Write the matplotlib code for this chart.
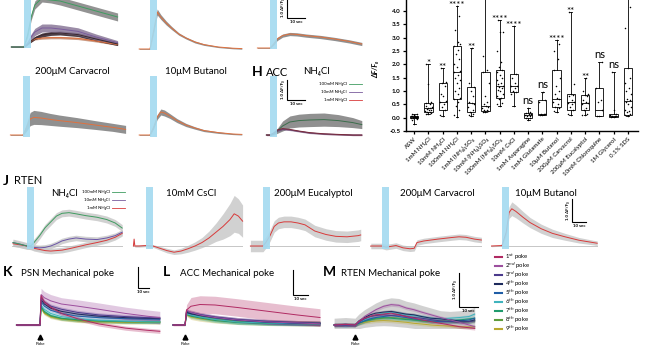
import numpy as np
import matplotlib.pyplot as plt
from matplotlib.lines import Line2D
from matplotlib.transforms import ScaledTranslation

plt.rcParams['font.family'] = ['Lato', 'DejaVu Sans']

W, H = 665, 348  # figure size in pixels

# ---------------- summary box plot ----------------
conditions = ['ASW', '1mM NH₄Cl', '10mM NH₄Cl', '100mM NH₄Cl', '1mM (NH₄)₂SO₄',
              '10mM (NH₄)₂SO₄', '100mM (NH₄)₂SO₄', '10mM CsCl', '1mM Asparagine',
              '1mM Glutamate', '10μM Butanol', '200μM Carvacrol', '200μM Eucalyptol',
              '10mM Chloroquine', '1M Glycerol', '0.1% SDS']
# whisker low, q1, median, q3, whisker high
box_stats = [(-0.25, -0.03, 0.02, 0.08, 0.15),
             (0.12, 0.2, 0.35, 0.55, 2.0),
             (0.05, 0.3, 0.6, 1.3, 1.85),
             (0.02, 0.7, 1.7, 2.68, 4.2),
             (0.05, 0.2, 0.55, 1.15, 2.63),
             (0.2, 0.25, 0.45, 1.7, 5.6),
             (0.45, 0.75, 1.2, 1.78, 3.65),
             (0.45, 0.95, 1.2, 1.65, 3.45),
             (-0.08, 0.0, 0.1, 0.18, 0.35),
             (0.1, 0.1, 0.12, 0.65, 0.95),
             (0.2, 0.4, 0.7, 1.8, 2.9),
             (0.1, 0.3, 0.6, 0.9, 3.95),
             (0.1, 0.3, 0.55, 0.85, 1.48),
             (0.05, 0.05, 0.3, 1.1, 2.07),
             (0.02, 0.02, 0.05, 0.15, 1.72),
             (0.05, 0.1, 0.62, 1.88, 5.4)]
cell_values = [
    [-0.25, -0.1, -0.05, -0.03, -0.02, 0.0, 0.0, 0.01, 0.02, 0.02, 0.03, 0.04, 0.05, 0.06, 0.07, 0.08, 0.1, 0.12, 0.15],
    [0.12, 0.15, 0.18, 0.2, 0.22, 0.25, 0.28, 0.3, 0.33, 0.35, 0.38, 0.4, 0.45, 0.5, 0.55, 0.58, 1.25, 2.0],
    [0.05, 0.1, 0.3, 0.4, 0.5, 0.58, 0.62, 0.8, 0.9, 1.2, 1.3, 1.35, 1.85],
    [0.02, 0.1, 0.3, 0.45, 0.6, 0.7, 0.75, 0.9, 1.0, 1.1, 1.3, 1.4, 1.5, 1.6, 1.7, 1.75, 1.9, 2.0,
     2.2, 2.4, 2.55, 2.68, 2.75, 2.85, 3.3, 3.8, 4.2],
    [0.05, 0.1, 0.15, 0.2, 0.3, 0.4, 0.5, 0.55, 0.6, 0.8, 1.0, 1.15, 1.3, 2.63],
    [0.2, 0.22, 0.25, 0.28, 0.3, 0.35, 0.4, 0.45, 0.5, 0.6, 0.8, 1.3, 1.7, 1.8, 2.3],
    [0.45, 0.5, 0.55, 0.7, 0.75, 0.8, 0.9, 1.0, 1.05, 1.1, 1.15, 1.2, 1.25, 1.3, 1.4, 1.5, 1.6,
     1.7, 1.78, 1.9, 2.1, 2.5, 3.2, 3.2, 3.65],
    [0.45, 0.9, 0.95, 1.0, 1.1, 1.2, 1.2, 1.3, 1.5, 1.65, 3.45],
    [-0.08, -0.02, 0.0, 0.05, 0.08, 0.1, 0.12, 0.15, 0.18, 0.2, 0.35],
    [0.1, 0.1, 0.12, 0.12, 0.15, 0.6, 0.65, 0.95],
    [0.2, 0.25, 0.35, 0.4, 0.5, 0.6, 0.7, 0.75, 0.9, 1.0, 1.2, 1.5, 1.8, 2.2, 2.5, 2.75, 2.9],
    [0.1, 0.15, 0.3, 0.4, 0.5, 0.55, 0.6, 0.65, 0.8, 0.85, 0.9, 1.25, 3.95],
    [0.1, 0.1, 0.12, 0.3, 0.35, 0.5, 0.55, 0.6, 0.65, 0.8, 0.85, 0.9, 1.0, 1.48],
    [0.05, 0.08, 0.3, 0.6, 0.65, 1.1, 2.07],
    [0.02, 0.03, 0.05, 0.05, 0.08, 0.1, 0.15, 0.3, 1.72],
    [0.05, 0.1, 0.15, 0.2, 0.25, 0.3, 0.4, 0.5, 0.6, 0.65, 0.7, 0.9, 1.0, 1.1, 1.3, 1.5, 1.88,
     3.35, 4.15]]
# stars above the two whiskers that run off the top are not drawn
significance = ['', '*', '**', '****', '**', '', '****', '****', 'ns', 'ns',
                '****', '**', '**', 'ns', 'ns', '']
jitter = [0.0, -0.18, 0.16, -0.08, 0.1, -0.22, 0.2, 0.05, -0.12, 0.14, -0.02, 0.22, -0.15, 0.08, -0.2, 0.18]

# ---------------- calcium traces (time in s, stimulus at t=0) ----------------
# top row, NH4Cl panel
a1_t = [-7, 0, 2, 4, 6, 10, 15, 20, 30, 40, 52]
a1_green = [0, 0, 0.6, 1.5, 2.1, 2.45, 2.4, 2.3, 2.05, 1.8, 1.5]
a1_green_sem = [0.02, 0.02, 0.1, 0.15, 0.2, 0.2, 0.2, 0.2, 0.2, 0.2, 0.2]
a1_purple = [0, 0, 0.2, 0.5, 0.75, 0.95, 0.95, 0.9, 0.78, 0.5, 0.22]
a1_purple_sem = [0.02, 0.02, 0.08, 0.15, 0.18, 0.2, 0.2, 0.2, 0.18, 0.15, 0.1]
a1_dark = [0, 0, 0.15, 0.3, 0.45, 0.6, 0.68, 0.7, 0.62, 0.4, 0.15]
a1_dark_sem = [0.01, 0.01, 0.04, 0.06, 0.08, 0.1, 0.1, 0.1, 0.1, 0.1, 0.08]
a1_orange = [0, 0, 0.15, 0.3, 0.4, 0.45, 0.47, 0.47, 0.43, 0.3, 0.12]
a1_orange_sem = [0.01, 0.01, 0.03, 0.04, 0.05, 0.06, 0.06, 0.06, 0.06, 0.05, 0.04]
# top row, fast decay panel
a2_t = [-6, 0, 2, 4, 6, 9, 12, 16, 20, 25, 30, 38, 46, 51]
a2_v = [0, 0, 0.9, 1.85, 1.6, 1.3, 1.05, 0.75, 0.55, 0.35, 0.22, 0.1, 0.04, 0.02]
a2_sem = [0.02, 0.02, 0.1, 0.15, 0.12, 0.1, 0.08, 0.06, 0.05, 0.05, 0.04, 0.03, 0.03, 0.03]
# top row, slow panel
a3_t = [-7, 0, 2, 4, 7, 11, 15, 20, 28, 36, 44, 51]
a3_v = [0, 0, 0.2, 0.45, 0.62, 0.7, 0.68, 0.62, 0.55, 0.45, 0.33, 0.2]
a3_sem = [0.02, 0.02, 0.05, 0.08, 0.08, 0.08, 0.08, 0.08, 0.08, 0.08, 0.08, 0.08]
# second row: carvacrol, butanol
b1_t = [-7, 0, 2, 4, 6, 10, 15, 20, 30, 40, 50, 57]
b1_v = [0, 0, 0.4, 0.8, 0.88, 0.85, 0.78, 0.72, 0.62, 0.5, 0.38, 0.28]
b1_sem = [0.02, 0.02, 0.2, 0.33, 0.35, 0.33, 0.3, 0.28, 0.25, 0.22, 0.2, 0.2]
b2_t = [-6, 0, 2, 4, 6, 8, 11, 15, 20, 25, 30, 38, 46, 51]
b2_v = [0, 0, 0.4, 0.9, 1.15, 1.1, 0.95, 0.72, 0.5, 0.35, 0.22, 0.12, 0.05, 0.03]
b2_sem = [0.02, 0.02, 0.08, 0.12, 0.15, 0.15, 0.12, 0.1, 0.08, 0.06, 0.05, 0.04, 0.03, 0.03]
# H: ACC NH4Cl
h_t = [-2, 0, 2, 4, 7, 11, 16, 22, 30, 38, 46, 51]
h_100 = [0, 0, 0.05, 0.2, 0.45, 0.65, 0.72, 0.75, 0.77, 0.72, 0.62, 0.52]
h_100_sem = [0.02, 0.02, 0.05, 0.12, 0.25, 0.3, 0.32, 0.33, 0.33, 0.3, 0.25, 0.2]
h_10 = [0, 0, 0.08, 0.2, 0.28, 0.25, 0.18, 0.1, 0.05, 0.02, 0.0, 0.0]
h_1 = [0, 0, 0.1, 0.25, 0.32, 0.28, 0.2, 0.12, 0.06, 0.03, 0.0, 0.0]
# J: RTEN
j1_t = [-10, -5, 0, 3, 5, 9, 13, 17, 21, 25, 30, 35, 42, 50, 57, 63, 68]
j1_100 = [0.15, 0.08, 0.0, 0.02, 0.15, 0.45, 0.8, 1.05, 1.3, 1.42, 1.45, 1.4, 1.32, 1.25, 1.15, 1.0, 0.78]
j1_10 = [0.15, 0.08, 0.0, -0.03, -0.06, -0.08, -0.06, 0.0, 0.1, 0.22, 0.3, 0.35, 0.3, 0.28, 0.35, 0.45, 0.6]
j1_1 = [0.1, 0.05, 0.0, -0.05, -0.1, -0.15, -0.2, -0.22, -0.2, -0.18, -0.12, -0.05, 0.05, 0.15, 0.25, 0.38, 0.55]
j2_t = [-9, -8.5, -8, -5, 0, 5, 10, 15, 20, 25, 30, 35, 40, 45, 50, 55, 60, 63, 66, 69]
j2_v = [0, 0.3, 0.0, 0.0, 0.02, 0.0, -0.1, -0.2, -0.27, -0.22, -0.12, 0.0, 0.15, 0.35, 0.6, 0.85,
        1.15, 1.4, 1.3, 1.08]
j2_sem = [0.05, 0.05, 0.05, 0.05, 0.05, 0.06, 0.08, 0.1, 0.1, 0.12, 0.15, 0.18, 0.22, 0.3, 0.4,
          0.55, 0.7, 0.8, 0.75, 0.7]
j3_t = [-9, 0, 2, 5, 8, 11, 15, 20, 25, 30, 37, 45, 52, 60, 68, 69.8]
j3_v = [0, 0, 0.15, 0.45, 0.85, 1.0, 1.05, 1.05, 1.0, 0.92, 0.65, 0.5, 0.42, 0.4, 0.45, 0.48]
j4_t = [-8, 0, 3, 6, 10, 15, 20, 23, 25, 30, 40, 50, 55, 60, 66, 71]
j4_v = [0, 0, -0.05, -0.02, 0.02, -0.08, -0.12, -0.1, 0.15, 0.22, 0.3, 0.37, 0.4, 0.38, 0.3, 0.26]
j5_t = [-7.5, 0, 3, 5, 7, 10, 15, 20, 28, 36, 45, 55, 65, 68]
j5_v = [0, 0.02, 0.6, 1.45, 1.62, 1.5, 1.25, 1.02, 0.75, 0.55, 0.4, 0.25, 0.15, 0.12]
j5_sem = [0.03, 0.03, 0.15, 0.25, 0.3, 0.28, 0.25, 0.22, 0.2, 0.18, 0.15, 0.12, 0.1, 0.1]

# K/L/M: mechanical poke, 9 consecutive pokes
poke_labels = ['1$^{st}$ poke', '2$^{nd}$ poke', '3$^{rd}$ poke'] + \
              ['%d$^{th}$ poke' % i for i in range(4, 10)]
poke_colors = ['#b02a62', '#9c4f9e', '#4b3a8c', '#1d2a5c', '#1f5da6',
               '#3fb3bd', '#1f9a6c', '#5e9c3c', '#b9a82e']
k_t = [-22, 0, 1, 4, 10, 20, 35, 55, 80, 100, 112]
k_pokes = [[0, 0, 1.4, 1.1, 0.85, 0.55, 0.3, 0.05, -0.15, -0.25, -0.3],
           [0, 0, 1.45, 1.3, 1.15, 1.0, 0.9, 0.75, 0.55, 0.42, 0.35],
           [0, 0, 1.3, 1.1, 0.9, 0.75, 0.6, 0.48, 0.4, 0.35, 0.33],
           [0, 0, 1.2, 1.0, 0.8, 0.65, 0.52, 0.42, 0.35, 0.32, 0.3],
           [0, 0, 1.1, 0.9, 0.7, 0.55, 0.42, 0.35, 0.3, 0.28, 0.28],
           [0, 0, 0.95, 0.75, 0.55, 0.4, 0.3, 0.22, 0.18, 0.15, 0.15],
           [0, 0, 0.9, 0.65, 0.45, 0.32, 0.25, 0.2, 0.16, 0.15, 0.14],
           [0, 0, 0.85, 0.6, 0.42, 0.3, 0.22, 0.18, 0.15, 0.15, 0.15],
           [0, 0, 0.8, 0.55, 0.38, 0.28, 0.2, 0.15, 0.12, 0.12, 0.12]]
k_sem = [0.1, 0.3, 0.1, 0.08, 0.08, 0.08, 0.08, 0.08, 0.08]
k_sem_profile = [0.15, 0.15, 1, 1, 1, 1, 1, 1, 1, 1, 1]
l_t = [-8, 0, 1, 4, 10, 20, 35, 55, 75, 90]
l_pokes = [[0, 0, 0.6, 0.75, 0.82, 0.8, 0.7, 0.55, 0.4, 0.3],
           [0, 0, 0.6, 0.5, 0.4, 0.3, 0.2, 0.12, 0.08, 0.05],
           [0, 0, 0.55, 0.5, 0.42, 0.32, 0.22, 0.15, 0.1, 0.08],
           [0, 0, 0.5, 0.45, 0.38, 0.3, 0.2, 0.12, 0.08, 0.06],
           [0, 0, 0.5, 0.45, 0.38, 0.28, 0.18, 0.1, 0.06, 0.05],
           [0, 0, 0.45, 0.4, 0.32, 0.22, 0.12, 0.08, 0.05, 0.05],
           [0, 0, 0.42, 0.35, 0.28, 0.18, 0.1, 0.06, 0.05, 0.05],
           [0, 0, 0.55, 0.45, 0.35, 0.25, 0.15, 0.1, 0.08, 0.07],
           [0, 0, 0.4, 0.32, 0.25, 0.18, 0.12, 0.08, 0.06, 0.05]]
l_sem = [0.35, 0.1, 0.08, 0.08, 0.08, 0.08, 0.08, 0.1, 0.1]
l_sem_profile = [0.1, 0.1, 0.6, 1, 1, 1, 1, 1, 1, 1]
m_t = [-11, -5, 0, 2, 5, 8, 11, 15, 19, 23, 27, 31, 35, 40, 45, 50, 55, 60, 63]
m_pokes = [[0, 0.02, 0, 0.1, 0.2, 0.25, 0.3, 0.32, 0.35, 0.3, 0.25, 0.2, 0.15, 0.1, 0.05, 0.0, -0.05, -0.08, -0.1],
           [0, 0.01, 0, 0.1, 0.25, 0.35, 0.45, 0.55, 0.6, 0.58, 0.5, 0.45, 0.38, 0.3, 0.22, 0.15, 0.08, 0.0, -0.05],
           [0, -0.01, 0, 0.08, 0.18, 0.25, 0.28, 0.3, 0.28, 0.3, 0.25, 0.22, 0.2, 0.16, 0.12, 0.1, 0.08, 0.1, 0.12],
           [0, 0.0, 0, 0.12, 0.22, 0.3, 0.35, 0.38, 0.4, 0.36, 0.32, 0.3, 0.25, 0.2, 0.18, 0.15, 0.12, 0.1, 0.15],
           [0, 0.02, 0, 0.05, 0.12, 0.18, 0.22, 0.25, 0.28, 0.25, 0.22, 0.18, 0.15, 0.12, 0.1, 0.1, 0.12, 0.15, 0.2],
           [0, -0.02, 0, 0.08, 0.15, 0.22, 0.3, 0.35, 0.38, 0.35, 0.3, 0.28, 0.25, 0.2, 0.18, 0.2, 0.22, 0.25, 0.32],
           [0, 0.01, 0, 0.06, 0.12, 0.15, 0.2, 0.22, 0.2, 0.18, 0.16, 0.15, 0.13, 0.1, 0.1, 0.12, 0.15, 0.18, 0.2],
           [0, 0.0, 0, 0.05, 0.1, 0.15, 0.18, 0.2, 0.22, 0.2, 0.18, 0.15, 0.12, 0.1, 0.12, 0.1, 0.08, 0.1, 0.12],
           [0, 0.01, 0, 0.04, 0.08, 0.1, 0.12, 0.13, 0.12, 0.1, 0.08, 0.05, 0.03, 0.0, -0.02, -0.03, -0.05, -0.06, -0.05]]

STIM = '#a3daf0'
GREEN, PURPLE, RED, ORANGE = '#3f9c60', '#7a5c9c', '#d83a3a', '#e0713e'

fig = plt.figure(figsize=(W / 100, H / 100), dpi=100)


def trace_axes(left, top, right, bottom, x_stim, baseline, px_s, px_u):
    """axes placed in pixel box; data in seconds (0 = stimulus) and dF/F0"""
    ax = fig.add_axes([left / W, 1 - bottom / H, (right - left) / W, (bottom - top) / H])
    ax.set_xlim((left - x_stim) / px_s, (right - x_stim) / px_s)
    ax.set_ylim(-(bottom - baseline) / px_u, (baseline - top) / px_u)
    ax.axis('off')
    return ax


def draw_trace(ax, t, v, sem, color, band='#858585', alpha=0.85, lw=0.7):
    t = np.asarray(t, float)
    v = np.asarray(v, float)
    sem = np.broadcast_to(np.asarray(sem, float), v.shape)
    ax.fill_between(t, v - sem, v + sem, color=band, alpha=alpha, lw=0, clip_on=False)
    ax.plot(t, v, color=color, lw=lw, clip_on=False)


def stim(ax, dur):
    ax.axvspan(0, dur, color=STIM, alpha=0.9, lw=0, zorder=5)


def scale_bar(ax, t0, v0, fs=3.2):
    ax.plot([t0, t0, t0 + 10], [v0 + 1, v0, v0], color='black', lw=0.8, clip_on=False,
            solid_joinstyle='miter')
    ax.annotate('10 sec', (t0 + 5, v0), xytext=(0, -1.5), textcoords='offset points',
                ha='center', va='top', fontsize=fs, fontweight='bold')
    ax.annotate('1.0 ΔF/F₀', (t0, v0 + 0.5), xytext=(-1.5, 0), textcoords='offset points',
                ha='right', va='center', rotation=90, fontsize=fs, fontweight='bold')


def mini_legend(ax, colors, labels, x_right, y_top, spacing):
    handles = [Line2D([], [], color=c, lw=0.6) for c in colors]
    ax.legend(handles, labels, loc='upper right', bbox_to_anchor=(x_right / W, 1 - y_top / H),
              bbox_transform=fig.transFigure, markerfirst=False, frameon=False, fontsize=3.2,
              handlelength=3.0, handletextpad=0.4, borderpad=0, borderaxespad=0,
              labelspacing=spacing)


# ---------- top row ----------
ax = trace_axes(10, -5, 118, 48, 24, 47, 1.8, 20)
draw_trace(ax, a1_t, a1_orange, a1_orange_sem, ORANGE, band='#c08a70')
draw_trace(ax, a1_t, a1_dark, a1_dark_sem, '#3a2830', band='#3a2a32', alpha=0.9)
draw_trace(ax, a1_t, a1_purple, a1_purple_sem, PURPLE, band='#8a7898')
draw_trace(ax, a1_t, a1_green, a1_green_sem, GREEN, band='#808080')
stim(ax, 4)

ax = trace_axes(138, -5, 243, 50, 150, 49, 1.8, 20)
draw_trace(ax, a2_t, a2_v, a2_sem, ORANGE, band='#7d7d7d')
stim(ax, 4)

ax = trace_axes(257, -5, 362, 49, 270, 48, 1.8, 20)
draw_trace(ax, a3_t, a3_v, a3_sem, ORANGE, band='#7d7d7d')
stim(ax, 4)
scale_bar(ax, 9.4, 1.5)

# ---------- second row ----------
fig.text(72 / W, 1 - 72 / H, '200μM Carvacrol', ha='center', va='center', fontsize=7)
fig.text(196 / W, 1 - 72 / H, '10μM Butanol', ha='center', va='center', fontsize=7)
fig.text(252 / W, 1 - 72 / H, 'H', ha='left', va='center', fontsize=10, fontweight='bold')
fig.text(266 / W, 1 - 72 / H, 'ACC', ha='left', va='center', fontsize=8)
fig.text(303 / W, 1 - 72 / H, 'NH₄Cl', ha='left', va='center', fontsize=7)

ax = trace_axes(10, 76, 115, 137, 23, 135, 1.8, 20)
draw_trace(ax, b1_t, b1_v, b1_sem, ORANGE, band='#7d7d7d')
stim(ax, 4)

ax = trace_axes(138, 76, 243, 137, 150, 135, 1.8, 20)
draw_trace(ax, b2_t, b2_v, b2_sem, ORANGE, band='#7d7d7d')
stim(ax, 4)

ax = trace_axes(266, 76, 362, 137, 270, 135, 1.8, 20)
draw_trace(ax, h_t, h_100, h_100_sem, '#3c6e4c', band='#7d7d7d')
draw_trace(ax, h_t, h_10, 0.03, '#6a4a7a', band='#6a4a7a', alpha=0.5)
draw_trace(ax, h_t, h_1, 0.03, '#7a2a3a', band='#7a2a3a', alpha=0.5)
stim(ax, 4)
scale_bar(ax, 9.4, 1.75)
mini_legend(ax, [GREEN, PURPLE, RED], ['100mM NH₄Cl', '10mM NH₄Cl', '1mM NH₄Cl'], 362, 82, 0.9)

# ---------- summary box plot ----------
bx = fig.add_axes([406 / W, 1 - 131 / H, 232 / W, 146.7 / H])
pos = np.arange(1, len(conditions) + 1)
stats = [dict(whislo=s[0], q1=s[1], med=s[2], q3=s[3], whishi=s[4]) for s in box_stats]
bx.bxp(stats, positions=pos, widths=0.58, capwidths=0.2, showfliers=False, patch_artist=True,
       boxprops=dict(facecolor='white', edgecolor='black', lw=0.6),
       medianprops=dict(color='black', lw=0.6),
       whiskerprops=dict(color='black', lw=0.6), capprops=dict(color='black', lw=0.6))
for i, vals in enumerate(cell_values):
    xs = [pos[i] + jitter[k % len(jitter)] for k in range(len(vals))]
    bx.scatter(xs, vals, s=1.2, color='black', zorder=4, lw=0)
for i, lab in enumerate(significance):
    if lab == 'ns':
        bx.annotate(lab, (pos[i], box_stats[i][4]), xytext=(0, 3), textcoords='offset points',
                    ha='center', va='baseline', fontsize=8)
    elif lab:
        bx.annotate(lab, (pos[i], box_stats[i][4]), xytext=(0, -1.5), textcoords='offset points',
                    ha='center', va='baseline', fontsize=7)
bx.set_xlim(0.42, 16.72)
bx.set_ylim(-0.5, 5.0)
yt = np.arange(-0.5, 4.51, 0.5)
bx.set_yticks(yt)
bx.set_yticklabels(['%.1f' % v if v < 4.25 else '' for v in yt], fontsize=4.5, fontweight='bold')
bx.set_xticks(pos)
bx.set_xticklabels(conditions, rotation=45, ha='right', rotation_mode='anchor', fontsize=4.4)
bx.tick_params(axis='both', length=2.5, width=0.9, pad=1.5)
bx.set_ylabel('ΔF/F₀', fontsize=5, fontstyle='italic', fontweight='bold', labelpad=2)
bx.yaxis.set_label_coords(-0.115, 0.42)
for sp in ['top', 'right']:
    bx.spines[sp].set_visible(False)
for sp in ['left', 'bottom']:
    bx.spines[sp].set_linewidth(1.0)

# ---------- J: RTEN ----------
fig.text(3 / W, 1 - 181 / H, 'J', ha='left', va='center', fontsize=10, fontweight='bold')
fig.text(14 / W, 1 - 181 / H, 'RTEN', ha='left', va='center', fontsize=8)
j_titles = [('NH₄Cl', 65), ('10mM CsCl', 191), ('200μM Eucalyptol', 313),
            ('200μM Carvacrol', 437), ('10μM Butanol', 546)]
for txt, xc in j_titles:
    fig.text(xc / W, 1 - 193 / H, txt, ha='center', va='center', fontsize=7)

ax = trace_axes(12, 187, 123, 249, 27, 246, 1.4, 23)
ax.axhline(0, color='#bdbdbd', lw=0.6)
draw_trace(ax, j1_t, j1_1, 0.12, RED, band='#c9c9c9')
draw_trace(ax, j1_t, j1_10, 0.12, '#6a54a6', band='#c9c9c9')
draw_trace(ax, j1_t, j1_100, 0.15, GREEN, band='#c9c9c9')
stim(ax, 5)
mini_legend(ax, [GREEN, PURPLE, RED], ['100mM NH₄Cl', '10mM NH₄Cl', '1mM NH₄Cl'], 125, 190, 0.9)

ax = trace_axes(133, 187, 243, 249, 146, 246, 1.4, 23)
ax.axhline(0, color='#bdbdbd', lw=0.6)
draw_trace(ax, j2_t, j2_v, j2_sem, RED, band='#c9c9c9')
stim(ax, 5)

ax = trace_axes(250, 187, 360, 249, 263, 246, 1.4, 23)
ax.axhline(0, color='#bdbdbd', lw=0.6)
draw_trace(ax, j3_t, j3_v, 0.25, RED, band='#c9c9c9')
stim(ax, 5)

ax = trace_axes(370, 187, 482, 249, 382, 246, 1.4, 23)
ax.axhline(0, color='#bdbdbd', lw=0.6)
draw_trace(ax, j4_t, j4_v, 0.12, RED, band='#c9c9c9')
stim(ax, 5)

ax = trace_axes(491, 187, 598, 249, 502, 246, 1.4, 23)
ax.axhline(0, color='#bdbdbd', lw=0.6)
draw_trace(ax, j5_t, j5_v, j5_sem, RED, band='#c9c9c9')
stim(ax, 5)
scale_bar(ax, 50, 1.04)

# ---------- K, L, M: mechanical poke ----------
for letter, lx, name, nx in [('K', 3, 'PSN Mechanical poke', 21),
                             ('L', 163, 'ACC Mechanical poke', 180),
                             ('M', 323, 'RTEN Mechanical poke', 341)]:
    fig.text(lx / W, 1 - 272 / H, letter, ha='left', va='center', fontsize=10, fontweight='bold')
    fig.text(nx / W, 1 - 273 / H, name, ha='left', va='center', fontsize=7)


def poke_panel(ax, t, pokes, sems, profile, band_alpha=0.3):
    for i in range(len(pokes) - 1, -1, -1):
        draw_trace(ax, t, pokes[i], sems[i] * np.asarray(profile, float), poke_colors[i],
                   band=poke_colors[i], alpha=band_alpha, lw=0.7)
    shift = ScaledTranslation(0, -8.5 / 72, fig.dpi_scale_trans)
    ax.plot([0], [0], marker='^', ms=3.5, color='black', lw=0,
            transform=ax.transData + shift, clip_on=False)
    ax.annotate('Poke', (0, 0), xytext=(0, -14), textcoords='offset points',
                ha='center', va='center', fontsize=3.2)


ax = trace_axes(15, 285, 162, 328, 40, 325, 1.07, 21)
poke_panel(ax, k_t, k_pokes, k_sem, k_sem_profile)
scale_bar(ax, 91.6, 1.76)

ax = trace_axes(172, 285, 322, 328, 185, 325, 1.5, 25)
poke_panel(ax, l_t, l_pokes, l_sem, l_sem_profile)
scale_bar(ax, 72, 1.2)

ax = trace_axes(333, 285, 480, 328, 355, 325, 1.9, 34)
env_top = np.max(m_pokes, axis=0) + 0.2
env_bot = np.min(m_pokes, axis=0) - 0.15
ax.fill_between(m_t, env_bot, env_top, color='#9a9a9a', alpha=0.45, lw=0)
poke_panel(ax, m_t, m_pokes, [0.05] * 9, [1] * len(m_t), band_alpha=0.25)
scale_bar(ax, 54.7, 0.53)

# poke legend: one row every 9 px
for i, (c, lab) in enumerate(zip(poke_colors, poke_labels)):
    yf = 1 - (256.7 + 9.05 * i) / H
    fig.add_artist(Line2D([495 / W, 502 / W], [yf, yf], color=c, lw=1.5))
    fig.text(505 / W, yf, lab, ha='left', va='center', fontsize=4.3)

fig.savefig('out.png', dpi=100)
